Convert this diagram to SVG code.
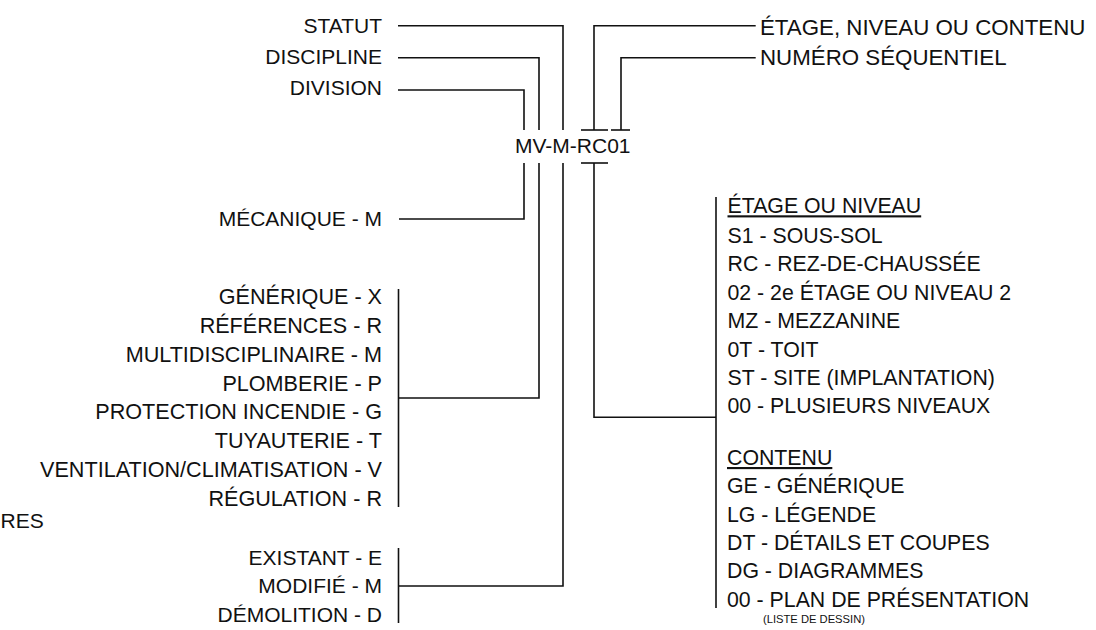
<svg xmlns="http://www.w3.org/2000/svg" width="1096" height="630" viewBox="0 0 1096 630">
<style>
text{font-family:"Liberation Sans",Arial,Helvetica,sans-serif;font-size:21px;fill:#111;}
.r{text-anchor:end;}
.u{text-decoration:underline;}
.s{font-size:11.2px;}
.w{font-size:22.3px;}
.l text{font-size:21.3px;}
.l text.s{font-size:11.2px;}
.d text{font-size:21.6px;}
.c line,.c polyline{stroke:#111;stroke-width:1.6;fill:none;}
</style>
<rect width="1096" height="630" fill="#fff"/>
<g id="connectors" class="c">
<polyline points="398,25.7 563,25.7 563,130"/>
<polyline points="398,57.7 539,57.7 539,130"/>
<polyline points="398,90 524,90 524,130"/>
<polyline points="755.7,25.7 594,25.7 594,130"/>
<polyline points="755.7,57.7 621,57.7 621,130"/>
<line x1="581" y1="130" x2="608" y2="130"/>
<line x1="611" y1="130" x2="630" y2="130"/>
<line x1="581" y1="163" x2="608" y2="163"/>
<polyline points="524,163 524,219 399,219"/>
<polyline points="539,163 539,398 398.5,398"/>
<polyline points="563,163 563,586 398.5,586"/>
<polyline points="594,163 594,417.3 716,417.3"/>
<line x1="398.5" y1="289" x2="398.5" y2="507"/>
<line x1="398.5" y1="548" x2="398.5" y2="623"/>
<line x1="716" y1="197" x2="716" y2="608"/>
</g>
<g id="code"><text x="515" y="153">MV-M-RC01</text></g>
<g id="statut"><text class="r" x="382" y="33">STATUT</text></g>
<g id="discipline"><text class="r" x="382" y="64">DISCIPLINE</text></g>
<g id="division"><text class="r" x="382" y="95">DIVISION</text></g>
<g id="etage-niveau"><text class="w" x="760" y="35">ÉTAGE, NIVEAU OU CONTENU</text></g>
<g id="numero"><text class="w" x="760" y="65">NUMÉRO SÉQUENTIEL</text></g>
<g id="mecanique"><text class="r" x="382" y="226">MÉCANIQUE - M</text></g>
<g id="disciplines" class="d">
<text class="r" x="382" y="304">GÉNÉRIQUE - X</text>
<text class="r" x="382" y="332.7">RÉFÉRENCES - R</text>
<text class="r" x="382" y="361.5">MULTIDISCIPLINAIRE - M</text>
<text class="r" x="382" y="390.5">PLOMBERIE - P</text>
<text class="r" x="382" y="419.3">PROTECTION INCENDIE - G</text>
<text class="r" x="382" y="447.8">TUYAUTERIE - T</text>
<text class="r" x="382" y="476.7">VENTILATION/CLIMATISATION - V</text>
<text class="r" x="382" y="505.7">RÉGULATION - R</text>
</g>
<g id="res"><text x="0.5" y="528">RES</text></g>
<g id="statuts">
<text class="r" x="382" y="565">EXISTANT - E</text>
<text class="r" x="382" y="593.3">MODIFIÉ - M</text>
<text class="r" x="382" y="621.7">DÉMOLITION - D</text>
</g>
<g id="niveaux" class="l">
<text class="u" x="727.5" y="213.3">ÉTAGE OU NIVEAU</text>
<text x="727.5" y="242.7">S1 - SOUS-SOL</text>
<text x="727.5" y="271.3">RC - REZ-DE-CHAUSSÉE</text>
<text x="727.5" y="300">02 - 2e ÉTAGE OU NIVEAU 2</text>
<text x="727.5" y="328.4">MZ - MEZZANINE</text>
<text x="727.5" y="356.8">0T - TOIT</text>
<text x="727.5" y="385.1">ST - SITE (IMPLANTATION)</text>
<text x="727.5" y="413.4">00 - PLUSIEURS NIVEAUX</text>
</g>
<g id="contenu" class="l">
<text class="u" x="727" y="465">CONTENU</text>
<text x="727" y="493.3">GE - GÉNÉRIQUE</text>
<text x="727" y="521.7">LG - LÉGENDE</text>
<text x="727" y="550">DT - DÉTAILS ET COUPES</text>
<text x="727" y="578.3">DG - DIAGRAMMES</text>
<text x="727" y="607">00 - PLAN DE PRÉSENTATION</text>
<text class="s" x="763" y="622.7">(LISTE DE DESSIN)</text>
</g>
</svg>
